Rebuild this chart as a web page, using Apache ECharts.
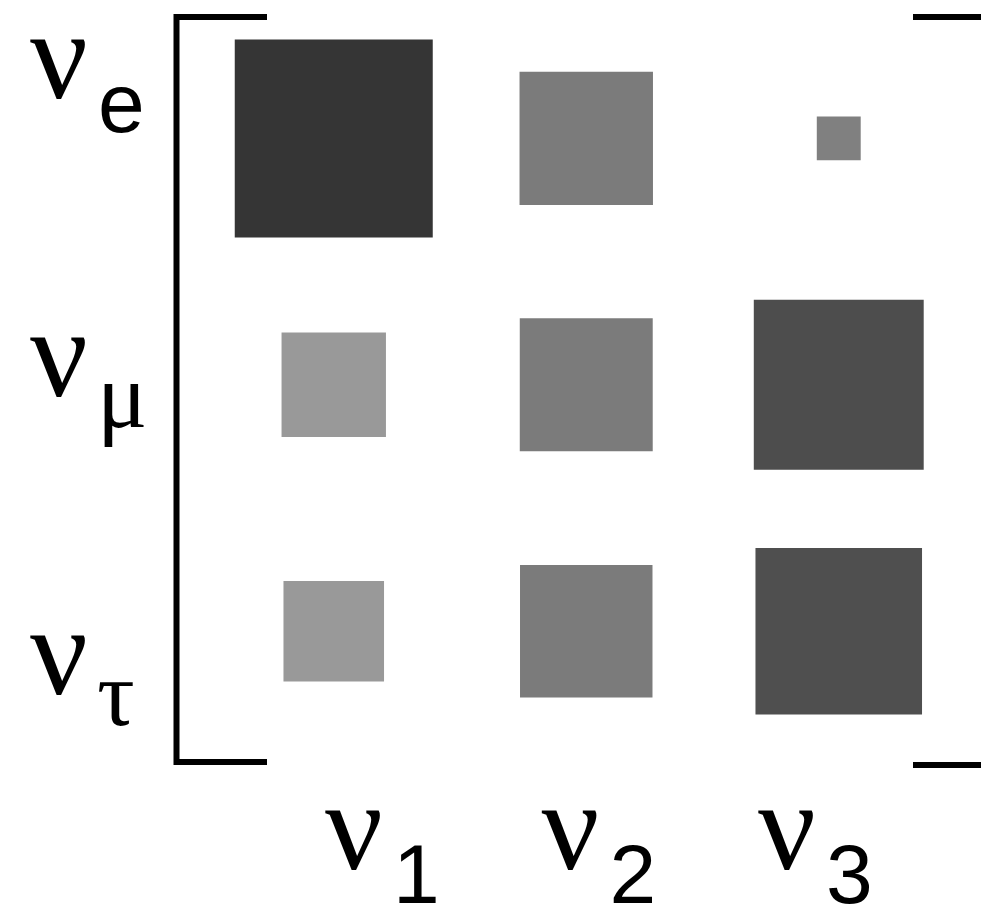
<!DOCTYPE html>
<html>
<head>
<meta charset="utf-8">
<script src="https://cdn.jsdelivr.net/npm/echarts@6/dist/echarts.min.js"></script>
<style>
  html, body { margin: 0; padding: 0; background: #fff; }
  #chart { width: 981px; height: 908px; }
</style>
</head>
<body>
<div id="chart"></div>
<script>
// flavour rows and mass columns (subscripts of nu)
var rowNames = ['e', 'μ', 'τ'];
var colNames = ['1', '2', '3'];

// |U| magnitude per cell, read from square sides (row by row)
var rowE   = [0.825, 0.556, 0.183];
var rowMu  = [0.435, 0.554, 0.708];
var rowTau = [0.419, 0.552, 0.694];

// grey level per cell
var shadeE   = [53, 123, 128];
var shadeMu  = [153, 123, 77];
var shadeTau = [153, 123, 79];

var SIDE = 240; // px for magnitude 1

var chart = echarts.init(document.getElementById('chart'));

var rows = [rowE, rowMu, rowTau];
var shades = [shadeE, shadeMu, shadeTau];
var cells = [];
for (var r = 0; r < rows.length; r++) {
	for (var c = 0; c < colNames.length; c++) {
		var g = shades[r][c];
		cells.push({
			value: [c, r, rows[r][c]],
			itemStyle: { color: 'rgb(' + g + ',' + g + ',' + g + ')', opacity: 1 }
		});
	}
}

function nuLabel(sub) {
	var greek = /[α-ω]/.test(sub);
	return '{n|ν}{' + (greek ? 'g' : 's') + '|' + sub + '}';
}

// bottom padding on nu pushes the subscript down relative to it
var labelRich = {
	n: { fontFamily: 'Liberation Serif', fontSize: 128, padding: [0, 0, 23, 0], verticalAlign: 'bottom', color: '#000' },
	s: { fontFamily: 'Liberation Sans', fontSize: 84, padding: [0, 0, 0, 10], verticalAlign: 'bottom', color: '#000' },
	g: { fontFamily: 'Liberation Serif', fontSize: 94, padding: [0, 0, 0, 9], verticalAlign: 'bottom', color: '#000' }
};

var hidden = {
	axisLine: { show: false },
	axisTick: { show: false },
	splitLine: { show: false }
};

var option = {
	backgroundColor: '#fff',
	animation: false,
	grid: [
		{ left: 207.5, right: 16, top: 15.2, bottom: 153.6, outerBoundsMode: 'none' },
		// only carries the nu labels
		{ left: 325, right: 223, top: 75.8, bottom: 236.2, outerBoundsMode: 'none' }
	],
	xAxis: [
		Object.assign({ type: 'category', gridIndex: 0, data: colNames, axisLabel: { show: false } }, hidden),
		Object.assign({
			type: 'category', gridIndex: 1, data: colNames, boundaryGap: false,
			axisLabel: { interval: 0, align: 'left', margin: 99.5, formatter: nuLabel, rich: labelRich }
		}, hidden)
	],
	yAxis: [
		Object.assign({ type: 'category', gridIndex: 0, data: rowNames, inverse: true, axisLabel: { show: false } }, hidden),
		Object.assign({
			type: 'category', gridIndex: 1, data: rowNames, inverse: true, boundaryGap: false,
			axisLabel: { interval: 0, align: 'left', margin: 295, formatter: nuLabel, rich: labelRich }
		}, hidden)
	],
	series: [{
		type: 'scatter',
		xAxisIndex: 0,
		yAxisIndex: 0,
		symbol: 'rect',
		symbolSize: function (v) { return v[2] * SIDE; },
		data: cells
	}],
	graphic: [{
		type: 'polyline',
		shape: { points: [[267, 17], [176.5, 17], [176.5, 762], [267, 762]] },
		style: { stroke: '#000', lineWidth: 6, fill: null }
	}, {
		type: 'polyline',
		shape: { points: [[913, 17], [985, 17], [985, 765], [913, 765]] },
		style: { stroke: '#000', lineWidth: 6, fill: null }
	}]
};

chart.setOption(option);
</script>
</body>
</html>
